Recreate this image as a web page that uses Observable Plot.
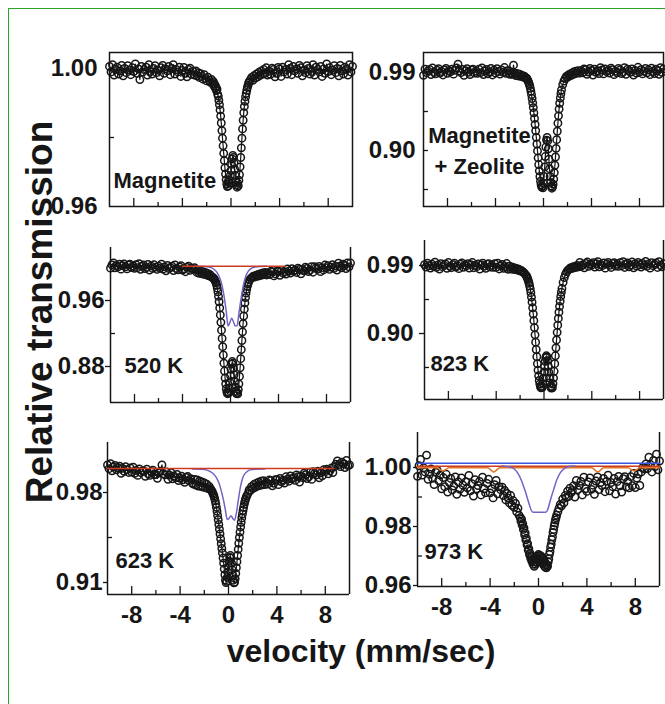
<!DOCTYPE html>
<html><head><meta charset="utf-8">
<script src="https://cdn.jsdelivr.net/npm/d3@7"></script>
<script src="https://cdn.jsdelivr.net/npm/@observablehq/plot@0.6"></script>
<style>
html,body{margin:0;padding:0;background:#fff;}
#chart{position:relative;width:665px;height:704px;overflow:hidden;background:#fff;}
#border{position:absolute;left:8px;top:8px;width:720px;height:740px;border-left:1.5px solid #2aa52a;border-top:1.5px solid #2aa52a;}
#chart svg text{font-weight:bold;}
</style></head><body><div id="chart"><div id="border"></div></div>
<script>
// Doppler velocity channels (mm/sec)
const velocity = [
 -10,-9.875,-9.75,-9.625,-9.5,-9.375,-9.25,-9.125,
 -9,-8.875,-8.75,-8.625,-8.5,-8.375,-8.25,-8.125,
 -8,-7.875,-7.75,-7.625,-7.5,-7.375,-7.25,-7.125,
 -7,-6.875,-6.75,-6.625,-6.5,-6.375,-6.25,-6.125,
 -6,-5.875,-5.75,-5.625,-5.5,-5.375,-5.25,-5.125,
 -5,-4.875,-4.75,-4.625,-4.5,-4.375,-4.25,-4.125,
 -4,-3.875,-3.75,-3.625,-3.5,-3.375,-3.25,-3.125,
 -3,
 -2.9,-2.8,-2.7,-2.6,-2.5,-2.4,-2.3,-2.2,-2.1,-2,-1.9,-1.8,-1.7,-1.6,
 -1.5,-1.45,-1.4,-1.35,-1.3,-1.25,-1.2,-1.15,-1.1,-1.05,-1,
 -0.95,-0.9,-0.85,-0.8,-0.75,-0.7,-0.65,-0.6,-0.55,-0.5,-0.45,-0.4,-0.35,-0.3,-0.25,-0.2,-0.15,-0.1,-0.05,
 0,
 0.05,0.1,0.15,0.2,0.25,0.3,0.35,0.4,0.45,0.5,0.55,0.6,0.65,0.7,0.75,0.8,0.85,0.9,0.95,1,1.05,1.1,1.15,1.2,1.25,1.3,1.35,1.4,1.45,1.5,
 1.6,1.7,1.8,1.9,2,2.1,2.2,2.3,2.4,2.5,2.6,2.7,2.8,2.9,
 3,3.125,3.25,3.375,3.5,3.625,3.75,3.875,
 4,4.125,4.25,4.375,4.5,4.625,4.75,4.875,
 5,5.125,5.25,5.375,5.5,5.625,5.75,5.875,
 6,6.125,6.25,6.375,6.5,6.625,6.75,6.875,
 7,7.125,7.25,7.375,7.5,7.625,7.75,7.875,
 8,8.125,8.25,8.375,8.5,8.625,8.75,8.875,
 9,9.125,9.25,9.375,9.5,9.625,9.75,9.875,
 10
];

// Relative transmission, Magnetite
const magnetite = [
 1.0006,0.9990,1.0011,0.9981,0.9997,1.0004,0.9984,0.9993,
 1.0009,0.9979,1.0000,0.9988,1.0008,0.9995,0.9982,1.0002,
 0.9991,1.0013,0.9986,0.9999,0.9968,1.0006,0.9990,0.9997,
 1.0004,0.9981,1.0011,0.9991,0.9984,1.0000,1.0008,0.9988,
 0.9995,0.9979,1.0002,1.0009,0.9986,0.9999,0.9993,1.0006,
 0.9982,1.0000,1.0011,0.9984,0.9997,0.9990,1.0004,0.9977,
 0.9994,1.0003,0.9986,0.9976,0.9997,1.0001,0.9983,0.9992,
 0.9981,
 0.9993,0.9979,0.9988,0.9974,0.9985,0.9977,0.9969,0.9982,0.9971,0.9964,0.9975,0.9966,0.9960,0.9968,
 0.9956,0.9962,0.9950,0.9955,0.9944,0.9948,0.9936,0.9940,0.9926,0.9920,0.9908,
 0.9895,0.9880,0.9862,0.9842,0.9820,0.9798,0.9776,0.9754,0.9733,0.9712,0.9694,0.9678,0.9665,0.9658,0.9671,0.9660,0.9676,0.9668,0.9690,
 0.9705,
 0.9722,0.9738,0.9748,0.9742,0.9726,0.9708,0.9690,0.9672,0.9662,0.9656,0.9668,0.9660,0.9676,0.9692,0.9715,0.9742,0.9770,0.9798,0.9825,0.9850,0.9872,0.9890,0.9905,0.9918,0.9928,0.9937,0.9945,0.9951,0.9958,0.9962,
 0.9968,0.9974,0.9966,0.9979,0.9972,0.9984,0.9976,0.9989,0.9980,0.9993,0.9984,0.9997,0.9986,1.0002,
 0.9981,0.9992,0.9983,1.0001,0.9997,0.9976,0.9986,1.0003,
 0.9999,0.9977,1.0004,0.9990,0.9997,0.9984,1.0011,1.0000,
 0.9982,1.0006,0.9993,0.9999,0.9986,1.0009,1.0002,0.9979,
 0.9995,0.9988,1.0008,1.0000,0.9984,0.9991,1.0011,0.9981,
 1.0004,0.9997,0.9990,1.0006,0.9977,0.9999,0.9986,1.0013,
 0.9991,1.0002,0.9982,0.9995,1.0008,0.9988,1.0000,0.9979,
 1.0009,0.9993,0.9984,1.0004,0.9997,0.9981,1.0011,0.9990,
 1.0006
];

// Magnetite + Zeolite
const magnetiteZeolite = [
 0.9867,0.9939,0.9899,0.9917,0.9935,0.9876,0.9953,0.9903,
 0.9885,0.9926,0.9944,0.9894,0.9912,0.9872,0.9930,0.9948,
 0.9890,0.9921,0.9908,0.9939,0.9881,0.9926,0.9953,0.9995,
 0.9917,0.9899,0.9935,0.9867,0.9921,0.9944,0.9903,0.9876,
 0.9930,0.9939,0.9894,0.9917,0.9890,0.9939,0.9899,0.9953,
 0.9876,0.9917,0.9935,0.9885,0.9908,0.9948,0.9872,0.9926,
 0.9894,0.9944,0.9912,0.9881,0.9930,0.9903,0.9957,0.9890,
 0.9921,
 0.9918,0.9880,0.9900,0.9878,0.9985,0.9890,0.9865,0.9888,0.9860,0.9880,0.9855,0.9868,0.9848,0.9858,
 0.9842,0.9830,0.9835,0.9818,0.9810,0.9790,0.9772,0.9748,0.9720,0.9685,0.9645,
 0.9600,0.9550,0.9495,0.9435,0.9370,0.9300,0.9228,0.9152,0.9075,0.8995,0.8915,0.8838,0.8765,0.8700,0.8645,0.8605,0.8578,0.8590,0.8570,
 0.8620,
 0.8700,0.8810,0.8930,0.9040,0.9120,0.9150,0.9110,0.9020,0.8900,0.8790,0.8700,0.8630,0.8590,0.8565,0.8580,0.8612,0.8670,0.8745,0.8830,0.8925,0.9025,0.9125,0.9222,0.9315,0.9400,0.9478,0.9545,0.9605,0.9655,0.9698,
 0.9760,0.9800,0.9830,0.9855,0.9845,0.9875,0.9862,0.9890,0.9872,0.9905,0.9885,0.9915,0.9895,0.9920,
 0.9893,0.9920,0.9897,0.9942,0.9933,0.9879,0.9906,0.9947,
 0.9924,0.9870,0.9938,0.9902,0.9920,0.9888,0.9956,0.9929,
 0.9884,0.9942,0.9911,0.9924,0.9893,0.9951,0.9933,0.9875,
 0.9915,0.9897,0.9947,0.9929,0.9888,0.9906,0.9956,0.9879,
 0.9938,0.9920,0.9902,0.9942,0.9870,0.9924,0.9893,0.9960,
 0.9906,0.9933,0.9884,0.9915,0.9947,0.9897,0.9929,0.9875,
 0.9951,0.9911,0.9888,0.9938,0.9920,0.9879,0.9956,0.9902,
 0.9942
];

// 520 K
const t520 = [
 0.9992,1.0032,1.0056,0.9996,1.0024,1.0008,1.0040,0.9980,
 1.0023,1.0043,1.0007,0.9983,1.0031,1.0039,0.9999,1.0019,
 0.9990,1.0034,0.9998,1.0046,0.9978,1.0014,1.0030,0.9986,
 1.0001,1.0037,0.9969,1.0017,0.9989,1.0033,1.0005,0.9977,
 1.0016,0.9992,1.0040,0.9980,1.0008,0.9960,1.0024,0.9988,
 0.9999,1.0015,0.9963,1.0031,0.9987,0.9971,1.0007,1.0023,
 0.9969,0.9985,0.9949,1.0001,1.0017,0.9965,0.9993,0.9981,
 0.9999,
 0.9975,0.9940,0.9965,0.9930,0.9958,0.9925,0.9950,0.9918,0.9940,0.9910,0.9928,0.9900,0.9912,0.9888,
 0.9880,0.9870,0.9872,0.9855,0.9848,0.9830,0.9812,0.9785,0.9750,0.9705,0.9650,
 0.9585,0.9510,0.9425,0.9335,0.9240,0.9140,0.9040,0.8940,0.8840,0.8745,0.8660,0.8590,0.8530,0.8490,0.8470,0.8495,0.8478,0.8540,0.8610,
 0.8690,
 0.8765,0.8830,0.8860,0.8840,0.8780,0.8700,0.8620,0.8550,0.8500,0.8472,0.8485,0.8468,0.8520,0.8590,0.8680,0.8785,0.8895,0.9005,0.9115,0.9220,0.9320,0.9412,0.9495,0.9570,0.9635,0.9690,0.9735,0.9772,0.9800,0.9822,
 0.9850,0.9868,0.9880,0.9895,0.9885,0.9905,0.9892,0.9915,0.9900,0.9925,0.9908,0.9935,0.9915,0.9940,
 0.9910,0.9934,0.9914,0.9954,0.9946,0.9898,0.9922,0.9958,
 0.9953,0.9905,0.9965,0.9933,0.9949,0.9921,0.9981,0.9957,
 0.9932,0.9984,0.9956,0.9968,0.9940,0.9992,0.9976,0.9924,
 0.9975,0.9959,1.0003,0.9987,0.9951,0.9967,1.0011,0.9943,
 1.0010,0.9994,0.9978,1.0014,0.9950,0.9998,0.9970,1.0030,
 0.9997,1.0021,0.9977,1.0005,1.0033,0.9989,1.0017,0.9969,
 1.0052,1.0016,0.9996,1.0040,1.0024,0.9988,1.0056,1.0008,
 1.0054
];
const sub520V = [-3,-2.2,-1.8,-1.5,-1.3,-1.1,-0.9,-0.7,-0.5,-0.35,-0.2,-0.05,0.1,0.25,0.4,0.55,0.7,0.9,1.1,1.3,1.5,1.8,2.2,3];
const sub520Purple = [1.0014,1.0012,1.0005,0.9990,0.9970,0.9935,0.9875,0.9780,0.9620,0.9460,0.9290,0.9335,0.9385,0.9340,0.9290,0.9295,0.9440,0.9640,0.9800,0.9905,0.9960,0.9995,1.0010,1.0014];
const sub520RedV = [-4,4.5];
const sub520Red = [1.0016,1.0016];

// 823 K
const t823 = [
 0.9912,0.9880,0.9930,0.9898,0.9866,0.9916,0.9889,0.9943,
 0.9876,0.9907,0.9853,0.9925,0.9885,0.9903,0.9921,0.9862,
 0.9939,0.9889,0.9871,0.9912,0.9930,0.9880,0.9898,0.9858,
 0.9916,0.9934,0.9876,0.9907,0.9894,0.9925,0.9866,0.9912,
 0.9939,0.9871,0.9903,0.9885,0.9921,0.9853,0.9907,0.9930,
 0.9889,0.9862,0.9916,0.9925,0.9880,0.9903,0.9876,0.9925,
 0.9877,0.9931,0.9854,0.9895,0.9913,0.9863,0.9886,0.9926,
 0.9850,
 0.9890,0.9855,0.9880,0.9850,0.9872,0.9845,0.9862,0.9838,0.9850,0.9828,0.9835,0.9815,0.9810,0.9790,
 0.9770,0.9758,0.9738,0.9718,0.9692,0.9665,0.9630,0.9590,0.9540,0.9482,0.9415,
 0.9340,0.9258,0.9170,0.9078,0.8982,0.8885,0.8788,0.8692,0.8600,0.8515,0.8440,0.8378,0.8330,0.8298,0.8280,0.8305,0.8285,0.8340,0.8410,
 0.8490,
 0.8565,0.8630,0.8680,0.8705,0.8690,0.8640,0.8570,0.8490,0.8410,0.8345,0.8300,0.8278,0.8295,0.8282,0.8335,0.8410,0.8500,0.8600,0.8705,0.8810,0.8915,0.9015,0.9110,0.9200,0.9282,0.9358,0.9428,0.9490,0.9545,0.9595,
 0.9678,0.9740,0.9785,0.9815,0.9838,0.9850,0.9868,0.9858,0.9880,0.9868,0.9892,0.9875,0.9900,0.9882,
 0.9942,0.9892,0.9910,0.9870,0.9928,0.9946,0.9888,0.9919,
 0.9906,0.9937,0.9879,0.9924,0.9951,0.9883,0.9915,0.9897,
 0.9933,0.9865,0.9919,0.9942,0.9901,0.9874,0.9928,0.9937,
 0.9892,0.9915,0.9888,0.9937,0.9897,0.9951,0.9874,0.9915,
 0.9933,0.9883,0.9906,0.9946,0.9870,0.9924,0.9892,0.9942,
 0.9910,0.9879,0.9928,0.9901,0.9955,0.9888,0.9919,0.9865,
 0.9937,0.9897,0.9915,0.9933,0.9874,0.9951,0.9901,0.9883,
 0.9924
];

// 623 K
const t623 = [
 1.0014,0.9985,1.0024,0.9969,0.9998,1.0011,0.9976,0.9992,
 1.0004,0.9949,0.9988,0.9965,1.0000,0.9978,0.9956,0.9991,
 0.9959,0.9997,0.9949,0.9971,0.9933,0.9984,0.9955,0.9968,
 0.9968,0.9926,0.9981,0.9946,0.9933,0.9962,0.9974,0.9939,
 0.9940,0.9911,0.9953,0.9966,1.0015,0.9946,0.9937,0.9959,
 0.9903,0.9935,0.9954,0.9906,0.9928,0.9915,0.9941,0.9893,
 0.9911,0.9927,0.9899,0.9879,0.9918,0.9924,0.9892,0.9908,
 0.9874,
 0.9865,0.9902,0.9858,0.9898,0.9850,0.9890,0.9848,0.9882,0.9842,0.9875,0.9838,0.9865,0.9830,0.9848,
 0.9830,0.9822,0.9812,0.9808,0.9795,0.9785,0.9772,0.9755,0.9735,0.9712,0.9685,
 0.9655,0.9622,0.9588,0.9552,0.9515,0.9478,0.9440,0.9402,0.9365,0.9330,0.9290,0.9250,0.9205,0.9160,0.9120,0.9100,0.9110,0.9140,0.9180,
 0.9225,
 0.9265,0.9295,0.9310,0.9290,0.9250,0.9200,0.9155,0.9118,0.9098,0.9102,0.9130,0.9170,0.9215,0.9262,0.9310,0.9358,0.9405,0.9450,0.9492,0.9532,0.9568,0.9602,0.9632,0.9660,0.9685,0.9708,0.9728,0.9745,0.9760,0.9772,
 0.9790,0.9820,0.9815,0.9845,0.9830,0.9862,0.9840,0.9872,0.9850,0.9880,0.9855,0.9888,0.9860,0.9892,
 0.9862,0.9881,0.9865,0.9897,0.9891,0.9852,0.9872,0.9900,
 0.9899,0.9861,0.9909,0.9883,0.9896,0.9874,0.9922,0.9903,
 0.9888,0.9929,0.9907,0.9916,0.9894,0.9936,0.9923,0.9881,
 0.9928,0.9915,0.9950,0.9938,0.9909,0.9922,0.9957,0.9902,
 0.9962,0.9949,0.9936,0.9965,0.9914,0.9952,0.9930,0.9978,
 0.9962,0.9981,0.9946,0.9968,0.9990,0.9955,1.0000,1.0020,
 1.0046,1.0017,1.0001,1.0036,1.0023,0.9994,1.0049,1.0010,
 1.0014
];
const sub623V = [-3,-2.2,-1.8,-1.5,-1.2,-1.0,-0.8,-0.6,-0.4,-0.25,-0.1,0.05,0.2,0.35,0.5,0.65,0.8,1.0,1.2,1.5,1.8,2.2,3];
const sub623Purple = [0.9982,0.9980,0.9974,0.9962,0.9940,0.9915,0.9875,0.9815,0.9735,0.9660,0.9590,0.9600,0.9620,0.9598,0.9585,0.9640,0.9735,0.9850,0.9920,0.9960,0.9976,0.9981,0.9982];
const sub623RedV = [-10,8.7];
const sub623Red = [0.9986,0.9986];

// 973 K
const t973 = [
 0.9970,1.0006,1.0027,0.9974,0.9999,0.9985,1.0042,0.9960,
 0.9977,0.9995,0.9963,0.9942,0.9984,0.9991,0.9956,0.9974,
 0.9928,0.9966,0.9935,0.9977,0.9917,0.9949,0.9963,0.9924,
 0.9937,0.9968,0.9909,0.9951,0.9926,0.9965,0.9940,0.9916,
 0.9952,0.9931,0.9973,0.9921,0.9945,0.9903,0.9959,0.9928,
 0.9939,0.9953,0.9907,0.9967,0.9928,0.9914,0.9946,0.9960,
 0.9914,0.9928,0.9897,0.9942,0.9956,0.9911,0.9935,0.9925,
 0.9933,
 0.9905,0.9922,0.9890,0.9912,0.9896,0.9880,0.9905,0.9872,0.9888,0.9865,0.9878,0.9850,0.9862,0.9838,
 0.9830,0.9818,0.9825,0.9805,0.9810,0.9790,0.9795,0.9772,0.9778,0.9755,0.9760,
 0.9738,0.9742,0.9720,0.9725,0.9705,0.9710,0.9692,0.9698,0.9682,0.9688,0.9672,0.9680,0.9665,0.9690,0.9672,0.9695,0.9678,0.9700,0.9685,
 0.9705,
 0.9688,0.9702,0.9685,0.9700,0.9680,0.9695,0.9675,0.9690,0.9668,0.9682,0.9662,0.9675,0.9660,0.9670,0.9665,0.9680,0.9690,0.9705,0.9715,0.9730,0.9740,0.9755,0.9765,0.9780,0.9790,0.9802,0.9812,0.9822,0.9830,0.9838,
 0.9850,0.9862,0.9875,0.9870,0.9893,0.9880,0.9905,0.9898,0.9920,0.9902,0.9930,0.9915,0.9922,0.9938,
 0.9900,0.9956,0.9925,0.9939,0.9953,0.9907,0.9967,0.9928,
 0.9919,0.9951,0.9965,0.9926,0.9940,0.9909,0.9954,0.9968,
 0.9925,0.9949,0.9939,0.9963,0.9918,0.9953,0.9974,0.9921,
 0.9949,0.9935,0.9963,0.9910,0.9952,0.9970,0.9938,0.9917,
 0.9962,0.9969,0.9934,0.9952,0.9931,0.9969,0.9938,0.9980,
 0.9932,0.9964,0.9978,0.9939,0.9985,1.0000,0.9995,1.0012,
 0.9996,1.0035,1.0010,0.9985,1.0024,1.0003,1.0045,0.9992,
 1.0022
];
const sub973BlueV = [-10,10];
const sub973Blue = [1.0014,1.0014];
const sub973RedV = [-10,10];
const sub973Red = [1.0004,1.0004];
const sub973OrangeV = [-10,-8.4,-7.9,-7.4,-4.2,-3.7,-3.2,4.4,4.9,5.4,7.4,7.9,8.4,10];
const sub973Orange = [0.9999,0.9999,0.9988,0.9999,0.9999,0.9985,0.9999,0.9999,0.9985,0.9999,0.9999,0.9988,0.9999,0.9999];
const sub973PurpleV = [-3,-2.4,-2.0,-1.7,-1.4,-1.1,-0.8,-0.6,-0.45,0,0.6,0.75,0.95,1.25,1.55,1.85,2.2,2.6,3];
const sub973Purple = [1.0005,1.0002,0.9995,0.9980,0.9955,0.9920,0.9880,0.9855,0.9848,0.9848,0.9848,0.9856,0.9885,0.9925,0.9962,0.9985,0.9998,1.0004,1.0005];

// axis ticks
const xMajorTicks = [-8,-4,0,4,8];
const xMinorTicks = [-6,-2,2,6];

// ---------------------------------------------------------------
const INK = "#161616";
const FONT = '"Liberation Sans", Arial, Helvetica, sans-serif';
const PURPLE = "#7463c6", RED = "#cf3a22", BLUE = "#3c55e0", ORANGE = "#e0782a";
const zip = (vs, ts) => vs.map((v, i) => ({v, t: ts[i]}));

const panels = [
  {values: magnetite, L:109, R:352, T:52, B:206, hi:[1.00,68], lo:[0.96,206],
   labels:[1.00,0.96], inTicks:[1.00,0.98], tickSize:0, tickPad:12, box:true,
   note:"Magnetite", ndx:4, ndy:-19, nanchor:"start", comps:[]},
  {values: magnetiteZeolite, L:423, R:663, T:52, B:206, hi:[0.99,72], lo:[0.90,150],
   labels:[0.99,0.90], inTicks:[0.99,0.945,0.90,0.855], tickSize:0, tickPad:8, box:true,
   note:"Magnetite\n+ Zeolite", ndx:56, ndy:-33, nanchor:"middle", comps:[]},
  {values: t520, L:110, R:350, T:247, B:402, hi:[0.96,300], lo:[0.88,366],
   labels:[0.96,0.88], inTicks:[0.92], tickSize:5, tickPad:1, box:false,
   note:"520 K", ndx:14, ndy:-30, nanchor:"start",
   comps:[[sub520V, sub520Purple, PURPLE], [sub520RedV, sub520Red, RED]]},
  {values: t823, L:424, R:663, T:240, B:399, hi:[0.99,265], lo:[0.90,333],
   labels:[0.99,0.90], inTicks:[0.945,0.855], tickSize:5, tickPad:6, box:false,
   note:"823 K", ndx:6, ndy:-29, nanchor:"start", comps:[]},
  {values: t623, L:107, R:349, T:442, B:594, hi:[0.98,492], lo:[0.91,582],
   labels:[0.98,0.91], inTicks:[0.945], tickSize:4, tickPad:1, box:false, xLabels:true,
   note:"623 K", ndx:8, ndy:-27, nanchor:"start",
   comps:[[sub623V, sub623Purple, PURPLE], [sub623RedV, sub623Red, RED]]},
  {values: t973, L:417, R:659, T:432, B:586, hi:[1.00,467], lo:[0.96,585],
   labels:[1.00,0.98,0.96], inTicks:[0.99,0.97], tickSize:4, tickPad:2, box:false, xLabels:true,
   note:"973 K", ndx:7, ndy:-28, nanchor:"start", noLine:true,
   comps:[[sub973OrangeV, sub973Orange, ORANGE], [sub973RedV, sub973Red, RED], [sub973BlueV, sub973Blue, BLUE], [sub973PurpleV, sub973Purple, PURPLE]]}
];

const chart = document.getElementById("chart");
const ml = 80, mr = 14, mt = 14, mb = 50;

for (const p of panels) {
  if (p.values.length !== velocity.length) console.error("length mismatch", p.note, p.values.length, velocity.length);
  const innerW = p.R - p.L, innerH = p.B - p.T;
  const k = (p.lo[1] - p.hi[1]) / (p.hi[0] - p.lo[0]);
  const ymin = p.lo[0] - (p.B - p.lo[1]) / k;
  const ymax = p.hi[0] + (p.hi[1] - p.T) / k;
  const rows = zip(velocity, p.values);
  const lineStyle = {stroke: INK, strokeWidth: 1.5};
  const marks = [];
  if (p.box) marks.push(Plot.frame(lineStyle));
  else marks.push(Plot.ruleX([-10, 10], lineStyle), Plot.ruleY([ymin], lineStyle));
  marks.push(
    Plot.ruleX(xMajorTicks, {x: d => d, insetTop: innerH - 8, stroke: INK, strokeWidth: 1.3}),
    Plot.ruleX(xMinorTicks, {x: d => d, insetTop: innerH - 4, stroke: INK, strokeWidth: 1.3}),
    Plot.ruleY(p.inTicks, {y: d => d, insetRight: innerW - 5, stroke: INK, strokeWidth: 1.3}),
    Plot.axisY({ticks: p.labels, tickSize: p.tickSize, tickPadding: p.tickPad, tickFormat: d => d.toFixed(2),
      fontSize: 24, fontWeight: "bold", label: null, strokeWidth: 1.3})
  );
  if (p.xLabels) marks.push(Plot.axisX({ticks: xMajorTicks, tickSize: 0, tickPadding: 11, tickFormat: d => String(d),
      fontSize: 24, fontWeight: "bold", label: null}));
  if (!p.noLine) marks.push(Plot.line(rows, {x: "v", y: "t", stroke: INK, strokeWidth: 1.2}));
  marks.push(Plot.dot(rows, {x: "v", y: "t", r: 3.7, stroke: INK, strokeWidth: 1.5}));
  for (const [vs, ts, color] of p.comps) {
    marks.push(Plot.line(zip(vs, ts), {x: "v", y: "t", stroke: color, strokeWidth: 1.5, curve: "monotone-x"}));
  }
  marks.push(Plot.text([p.note], {text: d => d, frameAnchor: "bottom-left", dx: p.ndx, dy: p.ndy,
    textAnchor: p.nanchor, lineAnchor: "bottom", lineHeight: 1.4, fontSize: 22, fontWeight: "bold", fill: INK}));

  const svg = Plot.plot({
    width: innerW + ml + mr, height: innerH + mt + mb,
    marginLeft: ml, marginRight: mr, marginTop: mt, marginBottom: mb,
    x: {domain: [-10, 10], axis: p.xLabels ? undefined : null},
    y: {domain: [ymin, ymax]},
    style: {background: "none", overflow: "visible", color: INK, fontFamily: FONT},
    marks
  });
  svg.style.position = "absolute";
  svg.style.left = (p.L - ml) + "px";
  svg.style.top = (p.T - mt) + "px";
  chart.appendChild(svg);
}

// axis titles
const ns = "http://www.w3.org/2000/svg";
const over = document.createElementNS(ns, "svg");
over.setAttribute("width", 665); over.setAttribute("height", 704);
over.style.position = "absolute"; over.style.left = "0px"; over.style.top = "0px";
over.style.fontFamily = FONT; over.style.fill = INK;
const t1 = document.createElementNS(ns, "text");
t1.setAttribute("x", 361); t1.setAttribute("y", 662); t1.setAttribute("text-anchor", "middle");
t1.setAttribute("font-size", 32); t1.setAttribute("font-weight", "bold");
t1.textContent = "velocity (mm/sec)";
const t2 = document.createElementNS(ns, "text");
t2.setAttribute("transform", "translate(52,312) rotate(-90)"); t2.setAttribute("text-anchor", "middle");
t2.setAttribute("font-size", 37); t2.setAttribute("font-weight", "bold");
t2.textContent = "Relative transmission";
over.appendChild(t1); over.appendChild(t2);
chart.appendChild(over);
</script>
</body></html>
